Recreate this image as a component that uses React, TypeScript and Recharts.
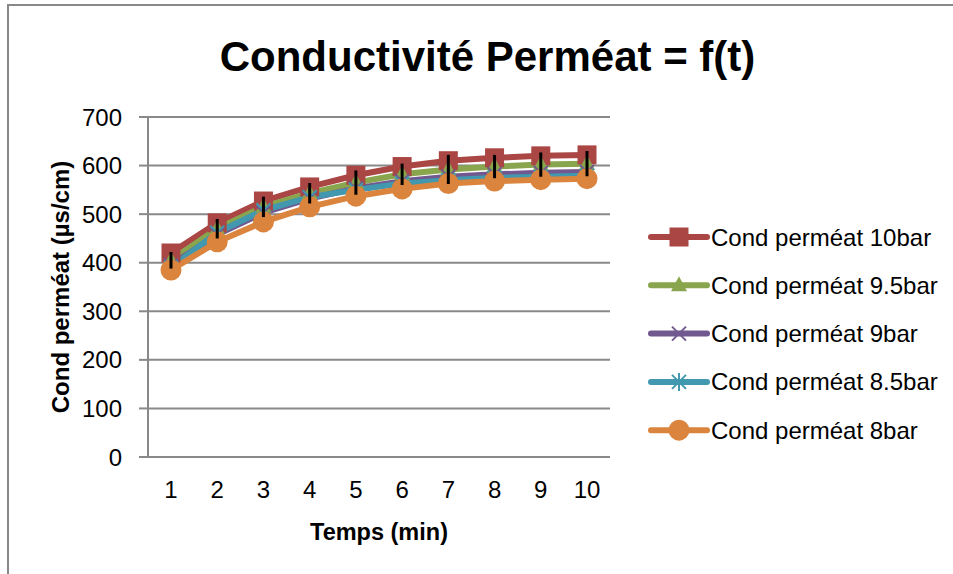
import {
  LineChart,
  Line,
  XAxis,
  YAxis,
  CartesianGrid,
  Legend,
  ErrorBar,
} from 'recharts';

const temps = [1, 2, 3, 4, 5, 6, 7, 8, 9, 10];
const cond10 = [420, 482, 527, 556, 580, 598, 610, 616, 620, 622];
const cond95 = [405, 470, 515, 543, 565, 582, 592, 598, 602, 604];
const cond9 = [395, 458, 503, 532, 553, 568, 577, 582, 585, 587];
const cond85 = [390, 462, 508, 535, 550, 563, 570, 575, 577, 579];
const cond8 = [385, 443, 484, 515, 537, 552, 563, 568, 571, 573];
const ecart = [17, 20, 21, 21, 25, 22, 30, 24, 25, 26];
const yTicks = [0, 100, 200, 300, 400, 500, 600, 700];

const data = temps.map((t, i) => ({
  t,
  c10: cond10[i],
  c95: cond95[i],
  c9: cond9[i],
  c85: cond85[i],
  c8: cond8[i],
  err: ecart[i],
}));

type Shape = 'square' | 'triangle' | 'x' | 'star' | 'circle';

const series: { key: string; name: string; color: string; shape: Shape }[] = [
  { key: 'c10', name: 'Cond perméat 10bar', color: '#AA4643', shape: 'square' },
  { key: 'c95', name: 'Cond perméat 9.5bar', color: '#89A54E', shape: 'triangle' },
  { key: 'c9', name: 'Cond perméat 9bar', color: '#71588F', shape: 'x' },
  { key: 'c85', name: 'Cond perméat 8.5bar', color: '#4198AF', shape: 'star' },
  { key: 'c8', name: 'Cond perméat 8bar', color: '#DB843D', shape: 'circle' },
];

const FONT = '"Liberation Sans", Arial, sans-serif';
const GRAY = '#898989';

function Marker({ cx, cy, shape, color }: { cx: number; cy: number; shape: Shape; color: string }) {
  if (cx == null || cy == null) return null;
  switch (shape) {
    case 'square':
      return <rect x={cx - 9.5} y={cy - 9.5} width={19} height={19} fill={color} />;
    case 'triangle':
      return (
        <polygon
          points={`${cx},${cy - 9} ${cx + 8},${cy + 6} ${cx - 8},${cy + 6}`}
          fill={color}
        />
      );
    case 'x':
      return (
        <g stroke={color} strokeWidth={2}>
          <line x1={cx - 7} y1={cy - 7} x2={cx + 7} y2={cy + 7} />
          <line x1={cx - 7} y1={cy + 7} x2={cx + 7} y2={cy - 7} />
        </g>
      );
    case 'star':
      return (
        <g stroke={color} strokeWidth={2}>
          <line x1={cx - 7} y1={cy - 7} x2={cx + 7} y2={cy + 7} />
          <line x1={cx - 7} y1={cy + 7} x2={cx + 7} y2={cy - 7} />
          <line x1={cx} y1={cy - 9} x2={cx} y2={cy + 9} />
        </g>
      );
    default:
      return <circle cx={cx} cy={cy} r={10.5} fill={color} />;
  }
}

function LegendBox() {
  return (
    <svg width={305} height={245}>
      {series.map((s, i) => {
        const y = 24 + i * 48.3;
        return (
          <g key={s.key}>
            <line x1={3} y1={y} x2={59} y2={y} stroke={s.color} strokeWidth={6} strokeLinecap="round" />
            <Marker cx={31} cy={y} shape={s.shape} color={s.color} />
            <text x={63} y={y + 8.5} fontSize={24} fontFamily={FONT} fill="#000">
              {s.name}
            </text>
          </g>
        );
      })}
    </svg>
  );
}

export default function App() {
  return (
    <div
      style={{
        position: 'absolute',
        left: 0,
        top: 0,
        width: 953,
        height: 574,
        background: '#fff',
        fontFamily: FONT,
      }}
    >
      <div
        style={{
          position: 'absolute',
          left: 7,
          top: 4,
          width: 960,
          height: 590,
          borderTop: `2px solid ${GRAY}`,
          borderLeft: `2px solid ${GRAY}`,
        }}
      />
      <div
        style={{
          position: 'absolute',
          left: 0,
          top: 33,
          width: 975,
          textAlign: 'center',
          fontSize: 42,
          fontWeight: 'bold',
          lineHeight: '48px',
        }}
      >
        Conductivité Perméat = f(t)
      </div>
      <LineChart
        width={953}
        height={574}
        data={data}
        margin={{ top: 117, right: 343, bottom: 0, left: 0 }}
        style={{ position: 'absolute', left: 0, top: 0 }}
      >
        <CartesianGrid vertical={false} stroke={GRAY} strokeWidth={2} />
        <XAxis
          dataKey="t"
          type="category"
          height={117}
          padding={{ left: 23, right: 23 }}
          tickLine={false}
          tickSize={6}
          tickMargin={18}
          axisLine={{ stroke: GRAY, strokeWidth: 2 }}
          tick={{ fontSize: 24, fill: '#000', fontFamily: FONT }}
          label={{
            value: 'Temps (min)',
            position: 'center',
            dy: 16,
            style: { fontSize: 23.5, fontWeight: 'bold', fill: '#000', fontFamily: FONT },
          }}
        />
        <YAxis
          width={148}
          domain={[0, 700]}
          ticks={yTicks}
          tickSize={9}
          tickMargin={17}
          tickLine={{ stroke: GRAY, strokeWidth: 2 }}
          axisLine={{ stroke: GRAY, strokeWidth: 2 }}
          tick={{ fontSize: 24, fill: '#000', fontFamily: FONT }}
          label={{
            value: 'Cond perméat (µs/cm)',
            angle: -90,
            position: 'center',
            dx: -14,
            style: { fontSize: 24, fontWeight: 'bold', fill: '#000', fontFamily: FONT },
          }}
        />
        {series.map((s) => (
          <Line
            key={s.key}
            dataKey={s.key}
            name={s.name}
            stroke={s.color}
            strokeWidth={6}
            isAnimationActive={false}
            activeDot={false}
            dot={(p: any) => (
              <Marker key={`${s.key}-${p.index}`} cx={p.cx} cy={p.cy} shape={s.shape} color={s.color} />
            )}
          />
        ))}
        <Line
          dataKey="c95"
          stroke="none"
          dot={false}
          activeDot={false}
          legendType="none"
          isAnimationActive={false}
          zIndex={3000}
        >
          <ErrorBar
            dataKey="err"
            direction="y"
            width={0}
            stroke="#000"
            strokeWidth={3}
            isAnimationActive={false}
            zIndex={3000}
          />
        </Line>
        <Legend
          layout="vertical"
          align="center"
          verticalAlign="middle"
          wrapperStyle={{ position: 'absolute', left: 648, top: 213, width: 305 }}
          content={() => <LegendBox />}
        />
      </LineChart>
    </div>
  );
}
